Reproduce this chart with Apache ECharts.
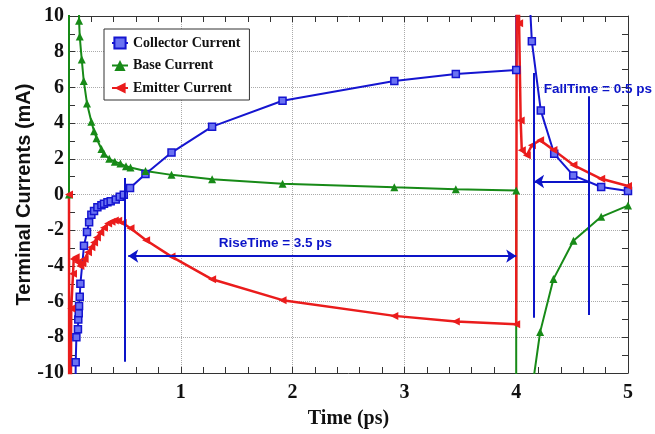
<!DOCTYPE html>
<html><head><meta charset="utf-8">
<script src="https://cdn.jsdelivr.net/npm/echarts@6/dist/echarts.min.js"></script>
<style>html,body{margin:0;padding:0;background:#fff}#c{width:655px;height:434px}</style>
</head><body><div id="c"></div>
<script>
// ---- data (time in ps, current in mA) ----
const collectorT = [0.055,0.06,0.066,0.08,0.083,0.087,0.09,0.096,0.102,0.134,0.161,0.18,0.2,0.224,0.254,0.29,0.313,0.344,0.373,0.418,0.454,0.49,0.546,0.684,0.917,1.28,1.91,2.91,3.46,4.0,4.0,4.12,4.14,4.22,4.34,4.51,4.76,5.0];
const collectorI = [-15,-9.4,-8.0,-7.55,-7.0,-6.65,-6.25,-5.73,-5.0,-2.87,-2.1,-1.55,-1.13,-0.92,-0.72,-0.6,-0.52,-0.44,-0.38,-0.28,-0.13,-0.02,0.36,1.15,2.35,3.8,5.25,6.36,6.75,6.97,30,11,8.58,4.7,2.28,1.07,0.42,0.2];

const baseT = [0,0,0.085,0.09,0.096,0.114,0.132,0.161,0.2,0.224,0.246,0.29,0.313,0.36,0.41,0.46,0.51,0.55,0.684,0.917,1.28,1.91,2.91,3.46,4.0,4.0,4.14,4.214,4.333,4.512,4.76,5.0];
const baseI = [0,30,30,9.74,8.85,7.56,6.36,5.1,4.08,3.55,3.15,2.55,2.28,2.0,1.84,1.73,1.58,1.51,1.32,1.1,0.86,0.6,0.4,0.3,0.23,-30,-11,-7.71,-4.74,-2.59,-1.25,-0.62];

const emitterT = [0,0.004,0.02,0.036,0.042,0.06,0.08,0.102,0.12,0.14,0.17,0.2,0.224,0.25,0.28,0.313,0.35,0.38,0.41,0.44,0.48,0.55,0.69,0.917,1.28,1.91,2.91,3.46,4.0,4.01,4.026,4.04,4.05,4.095,4.14,4.214,4.333,4.512,4.76,5.0];
const emitterI = [0,-30,-6.38,-4.44,-3.62,-3.52,-3.8,-4.0,-3.85,-3.62,-3.24,-2.96,-2.69,-2.41,-2.13,-1.86,-1.63,-1.52,-1.45,-1.47,-1.6,-1.89,-2.56,-3.48,-4.75,-5.92,-6.8,-7.12,-7.27,30,9.6,4.14,2.48,2.2,2.76,3.04,2.5,1.65,0.88,0.48];

const seriesNames = ['Collector Current','Base Current','Emitter Current'];
const xTicks = [0,1,2,3,4,5];
const yTicks = [-10,-8,-6,-4,-2,0,2,4,6,8,10];

// annotations (data space)
const riseVLine = [[0.5,0.92],[0.5,-9.37]];
const riseArrow = [[0.53,-3.45],[4.0,-3.45]];
const riseLabel = [1.846,-2.74,'RiseTime = 3.5 ps'];
const fallVLine1 = [[4.16,6.8],[4.16,-6.9]];
const fallVLine2 = [[4.65,5.5],[4.65,-6.75]];
const fallArrow = [[4.16,0.73],[4.65,0.73]];
const fallLabel = [4.73,5.9,'FallTime = 0.5 ps'];

const zip = (a,b)=>a.map((v,i)=>[v,b[i]]);
const BLUE='#1515d0', GREEN='#178a17', RED='#ea1c1c', ANN='#0c14c8';
const serif = "'Liberation Serif','Times New Roman',serif";
const sans = "'Liberation Sans',Arial,sans-serif";

const chart = echarts.init(document.getElementById('c'), null, {renderer:'canvas'});
const axisCommonX = {
  type:'value', min:xTicks[0], max:xTicks[xTicks.length-1], interval:1,
  axisLine:{show:true, onZero:false, lineStyle:{color:'#333', width:1}},
  axisTick:{show:true, inside:true, length:6, lineStyle:{color:'#333'}},
  minorTick:{show:true, splitNumber:5, length:6, lineStyle:{color:'#333'}},
};
const axisCommonY = {
  type:'value', min:yTicks[0], max:yTicks[yTicks.length-1], interval:2,
  axisLine:{show:true, onZero:false, lineStyle:{color:'#333', width:1}},
  axisTick:{show:true, inside:true, length:6, lineStyle:{color:'#333'}},
  minorTick:{show:true, splitNumber:2, length:6, lineStyle:{color:'#333'}},
};
const annLine = (pair, s0, s1) => [
  {coord:pair[0], symbol:s0}, {coord:pair[1], symbol:s1}
];

chart.setOption({
  animation:false,
  backgroundColor:'#fff',
  grid:{left:69, right:27, top:16, bottom:57},
  legend:{
    orient:'vertical', left:104, top:29,
    data:seriesNames,
    backgroundColor:'#fff', borderColor:'#333', borderWidth:1,
    padding:[7,9,5,7], itemGap:8.5, itemWidth:16, itemHeight:14,
    textStyle:{fontFamily:serif, fontWeight:'bold', fontSize:14, color:'#111'}
  },
  xAxis:[
    Object.assign({}, axisCommonX, {
      position:'bottom',
      name:'Time (ps)', nameLocation:'middle', nameGap:36,
      nameTextStyle:{fontFamily:serif, fontWeight:'bold', fontSize:20, color:'#111'},
      axisLabel:{margin:10, fontFamily:serif, fontWeight:'bold', fontSize:20, color:'#111',
        formatter:v=> v===0 ? '' : String(v)},
      splitLine:{show:true, lineStyle:{color:'#aaa', type:'dotted', width:1}}
    }),
    Object.assign({}, axisCommonX, {position:'top', axisLabel:{show:false}, splitLine:{show:false}})
  ],
  yAxis:[
    Object.assign({}, axisCommonY, {
      position:'left',
      name:'Terminal Currents (mA)', nameLocation:'middle', nameGap:35, nameRotate:90,
      nameMoveOverlap:false,
      nameTextStyle:{fontFamily:sans, fontWeight:'bold', fontSize:20, color:'#111'},
      axisLabel:{margin:5, fontFamily:serif, fontWeight:'bold', fontSize:20, color:'#111'},
      splitLine:{show:true, lineStyle:{color:'#aaa', type:'dotted', width:1}}
    }),
    Object.assign({}, axisCommonY, {position:'right', axisLabel:{show:false}, splitLine:{show:false}})
  ],
  series:[
    {
      name:seriesNames[0], type:'line', data:zip(collectorT, collectorI), clip:true,
      symbol:'rect', symbolSize:7,
      lineStyle:{color:BLUE, width:2},
      itemStyle:{color:'#6a72f2', borderColor:BLUE, borderWidth:1.5}
    },
    {
      name:seriesNames[1], type:'line', data:zip(baseT, baseI), clip:true,
      symbol:'triangle', symbolSize:8,
      lineStyle:{color:GREEN, width:2},
      itemStyle:{color:GREEN}
    },
    {
      name:seriesNames[2], type:'line', data:zip(emitterT, emitterI), clip:true,
      symbol:'triangle', symbolSize:8, symbolRotate:90,
      lineStyle:{color:RED, width:2.5},
      itemStyle:{color:RED}
    },
    {
      name:'annotations', type:'line', data:[], silent:true,
      markLine:{
        silent:true, animation:false, symbolSize:[10,10],
        label:{show:false},
        lineStyle:{color:ANN, width:2, type:'solid'},
        data:[
          annLine(riseVLine,'none','none'),
          annLine(riseArrow,'arrow','arrow'),
          annLine(fallVLine1,'none','none'),
          annLine(fallVLine2,'none','none'),
          annLine(fallArrow,'arrow','none')
        ]
      }
    },
    {
      name:'labels', type:'scatter', silent:true, symbolSize:1,
      itemStyle:{color:'rgba(0,0,0,0)', opacity:1},
      data:[riseLabel, fallLabel].map(d=>({value:[d[0],d[1]], name:d[2]})),
      label:{show:true, position:'inside', formatter:p=>p.name, opacity:1,
        textBorderWidth:0, fontFamily:sans, fontWeight:'bold', fontSize:13.5, color:ANN}
    }
  ]
});
</script>
</body></html>
